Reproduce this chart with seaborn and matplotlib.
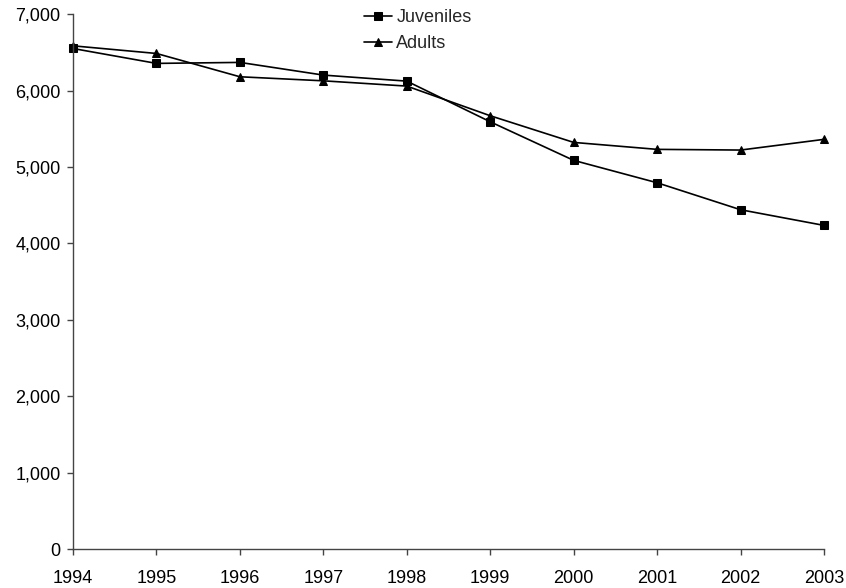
import matplotlib
matplotlib.use("Agg")
import matplotlib.pyplot as plt
import matplotlib.ticker as mticker
import seaborn as sns
import pandas as pd

years = [1994, 1995, 1996, 1997, 1998, 1999, 2000, 2001, 2002, 2003]
juveniles = [6550, 6355, 6368, 6202, 6123, 5591, 5086, 4793, 4440, 4235]
adults = [6585, 6485, 6180, 6127, 6058, 5670, 5321, 5230, 5221, 5361]

df = pd.DataFrame({"year": years, "Juveniles": juveniles, "Adults": adults})

sns.set_style("white")
plt.rcParams["font.family"] = ["Liberation Sans", "DejaVu Sans"]

fig = plt.figure(figsize=(8.46, 5.88), dpi=100)
ax = fig.add_axes([0.0863, 0.0663, 0.8877, 0.9097])

sns.lineplot(data=df, x="year", y="Juveniles", ax=ax, color="black", marker="s",
             markersize=6, linewidth=1.2, markeredgecolor="black", label="Juveniles")
sns.lineplot(data=df, x="year", y="Adults", ax=ax, color="black", marker="^",
             markersize=6, linewidth=1.2, markeredgecolor="black", label="Adults")

ax.set_xlim(1994, 2003)
ax.set_ylim(0, 7000)
ax.set_xticks(years)
ax.set_yticks(range(0, 7001, 1000))
ax.yaxis.set_major_formatter(mticker.FuncFormatter(lambda v, p: f"{int(v):,}"))
ax.set_xlabel("")
ax.set_ylabel("")
for s in ["top", "right"]:
    ax.spines[s].set_visible(False)
for s in ["left", "bottom"]:
    ax.spines[s].set_color("#444444")
    ax.spines[s].set_linewidth(1.0)
ax.tick_params(axis="both", direction="out", length=4, width=1, color="#444444",
               labelsize=13, labelcolor="black", bottom=True, left=True)
ax.tick_params(axis="x", pad=11)
ax.tick_params(axis="y", pad=5)
for l in ax.lines:
    l.set_clip_on(False)

ax.legend(loc="upper left", bbox_to_anchor=(0.430, 1 - 9 / 588), bbox_transform=fig.transFigure,
          frameon=False, fontsize=13, handlelength=1.55, handletextpad=0.25,
          labelspacing=0.52, borderaxespad=0, borderpad=0)

fig.savefig("out.png", dpi=100)
